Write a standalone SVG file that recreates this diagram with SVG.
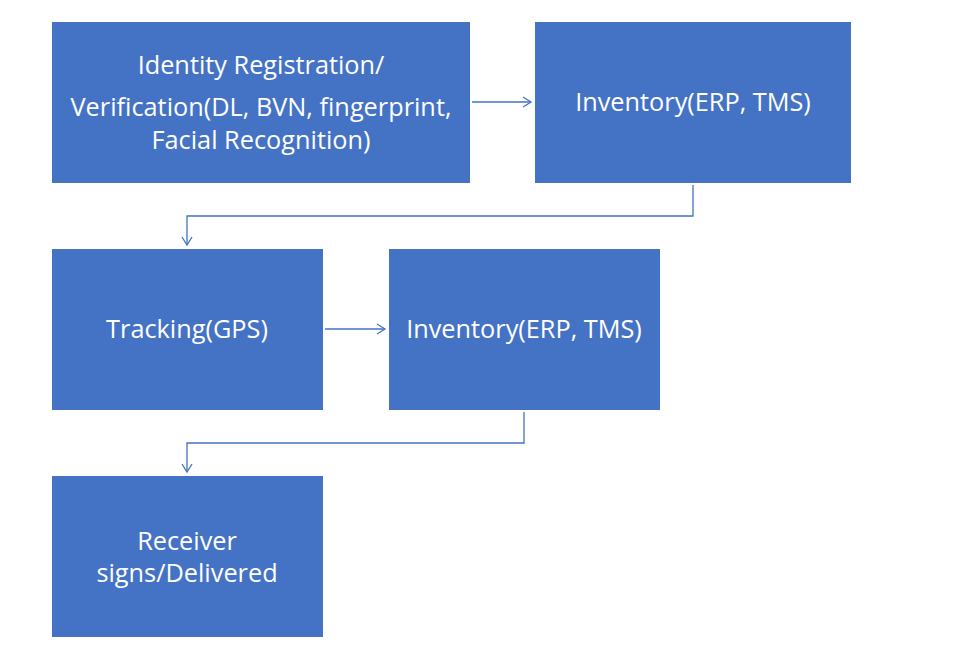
<svg xmlns="http://www.w3.org/2000/svg" width="968" height="648" viewBox="0 0 968 648">
<style>
.box{fill:#4472C4;}
.t{fill:#fff;font-family:"Open Sans","Liberation Sans",sans-serif;font-size:25.3px;text-anchor:middle;}
.c{fill:none;stroke:#4472C4;stroke-width:1.3;marker-end:url(#ah);}
</style>
<defs>
<marker id="ah" markerWidth="12" markerHeight="12" refX="10" refY="6" orient="auto" markerUnits="userSpaceOnUse">
<path d="M2,1 L10,6 L2,11" fill="none" stroke="#4472C4" stroke-width="1.3"/>
</marker>
</defs>
<rect width="968" height="648" fill="#fff"/>
<g id="n1"><rect class="box" x="52" y="22" width="418" height="161"/>
<text class="t" x="261" y="73.5">Identity Registration/</text>
<text class="t" x="261" y="115.5">Verification(DL, BVN, fingerprint,</text>
<text class="t" x="261" y="148.5">Facial Recognition)</text></g>
<g id="n2"><rect class="box" x="535" y="22" width="316" height="161"/>
<text class="t" x="693" y="110.5">Inventory(ERP, TMS)</text></g>
<g id="n3"><rect class="box" x="52" y="249" width="271" height="161"/>
<text class="t" x="187" y="337.5">Tracking(GPS)</text></g>
<g id="n4"><rect class="box" x="389" y="249" width="271" height="161"/>
<text class="t" x="524" y="337.5">Inventory(ERP, TMS)</text></g>
<g id="n5"><rect class="box" x="52" y="476" width="271" height="161"/>
<text class="t" x="187" y="549.5">Receiver</text>
<text class="t" x="187" y="581.5">signs/Delivered</text></g>
<g id="connectors">
<path class="c" d="M472,102 H531"/>
<path class="c" d="M693,185 V216 H187 V245"/>
<path class="c" d="M325,329 H385"/>
<path class="c" d="M524,412 V443 H187 V472"/>
</g>
</svg>
